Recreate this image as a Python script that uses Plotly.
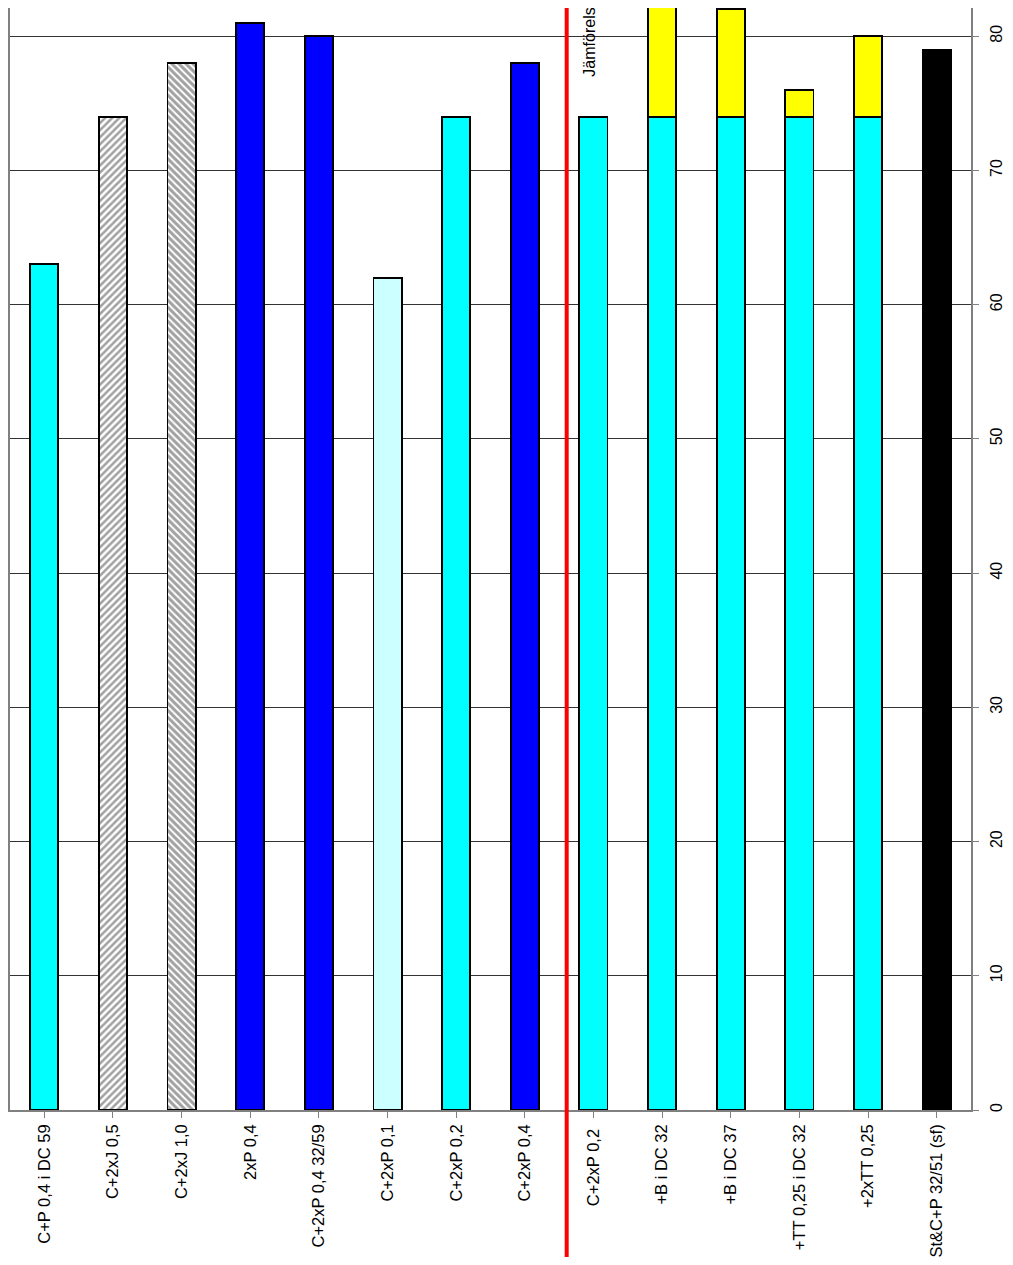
import plotly.graph_objects as go

categories = ["C+P 0,4 i DC 59", "C+2xJ 0,5", "C+2xJ 1,0", "2xP 0,4", "C+2xP 0,4 32/59",
              "C+2xP 0,1", "C+2xP 0,2", "C+2xP 0,4", "C+2xP 0,2 ", "+B i DC 32",
              "+B i DC 37", "+TT 0,25 i DC 32", "+2xTT 0,25", "St&C+P 32/51 (sf)"]
base_values = [63, 74, 78, 81, 80, 62, 74, 78, 74, 74, 74, 74, 74, 79]
added_values = [0, 0, 0, 0, 0, 0, 0, 0, 0, 10, 8, 2, 6, 0]
base_colors = ["#00FFFF", "#FFFFFF", "#FFFFFF", "#0000FF", "#0000FF", "#CCFFFF", "#00FFFF",
               "#0000FF", "#00FFFF", "#00FFFF", "#00FFFF", "#00FFFF", "#00FFFF", "#000000"]
pattern_shapes = ["", "/", "\\", "", "", "", "", "", "", "", "", "", "", ""]
pattern_fg = ["#000000", "#999999", "#000000", "#000000", "#000000", "#000000", "#000000",
              "#000000", "#000000", "#000000", "#000000", "#000000", "#000000", "#000000"]
pattern_solidity = [0.5, 0.5, 0.6, 0.5, 0.5, 0.5, 0.5, 0.5, 0.5, 0.5, 0.5, 0.5, 0.5, 0.5]
value_ticks = [0, 10, 20, 30, 40, 50, 60, 70, 80]
divider_position = 7.61
note_text = "Jämförels"

x_idx = list(range(len(categories)))
font = "Liberation Sans, Arial, sans-serif"

fig = go.Figure()
fig.add_trace(go.Bar(
    x=x_idx, y=base_values,
    marker=dict(color=base_colors, line=dict(color="#000000", width=1.8),
                pattern=dict(shape=pattern_shapes, fgcolor=pattern_fg,
                             bgcolor="#FFFFFF", size=5, solidity=pattern_solidity)),
    showlegend=False,
))
fig.add_trace(go.Bar(
    x=x_idx, y=added_values,
    marker=dict(color="#FFFF00", line=dict(color="#000000", width=1.8)),
    showlegend=False,
))

fig.add_shape(type="line", xref="x", yref="paper",
              x0=divider_position, x1=divider_position, y0=-0.136, y1=1.0,
              line=dict(color="#FF0000", width=4))

fig.add_annotation(x=8 - 0.05, y=76.8, xref="x", yref="y", text=note_text,
                   textangle=-90, showarrow=False, xanchor="center", yanchor="bottom",
                   font=dict(family=font, size=16, color="#000000"))

fig.update_layout(
    width=997, height=1249,
    margin=dict(l=1, r=34, t=0, b=144),
    barmode="stack", bargap=0.59,
    plot_bgcolor="#FFFFFF", paper_bgcolor="#FFFFFF",
    font=dict(family=font, size=16, color="#000000"),
)
fig.update_xaxes(
    tickmode="array", tickvals=x_idx, ticktext=categories, tickangle=-90,
    range=[-0.5, len(categories) - 0.5],
    showline=True, linecolor="#808080", linewidth=1.5,
    ticks="outside", tickson="boundaries", ticklen=6, tickcolor="#808080",
    showgrid=False, tickfont=dict(size=16.5),
)
fig.update_yaxes(
    side="right", range=[0, 82.1], tickvals=value_ticks, tickangle=-90,
    showline=True, mirror=True, linecolor="#808080", linewidth=1.5,
    ticks="outside", ticklen=6, tickcolor="#808080", ticklabelstandoff=4,
    showgrid=True, gridcolor="#333333", gridwidth=1, zeroline=False,
    tickfont=dict(size=16),
)

fig.write_html("out.html")
